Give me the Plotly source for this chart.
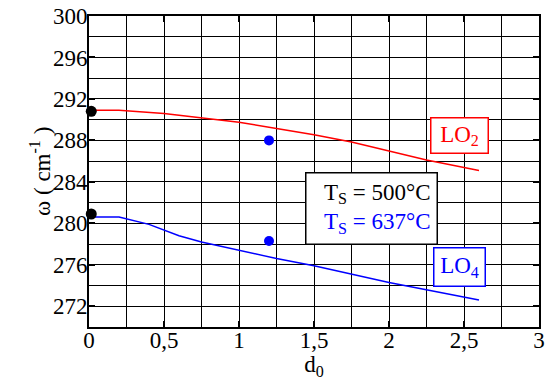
import plotly.graph_objects as go

# LO2 mode (red line)
lo2_d = [0.01, 0.2, 0.5, 0.75, 1.0, 1.25, 1.5, 1.75, 2.0, 2.25, 2.6]
lo2_w = [290.9, 290.9, 290.6, 290.15, 289.75, 289.15, 288.55, 287.85, 287.0, 286.1, 285.1]
# LO4 mode (blue line)
lo4_d = [0.01, 0.2, 0.4, 0.6, 0.75, 1.0, 1.25, 1.5, 2.0, 2.6]
lo4_w = [280.6, 280.6, 279.9, 278.8, 278.2, 277.4, 276.6, 275.9, 274.3, 272.6]
# measured points
ts500_d = [0.015, 0.015]
ts500_w = [290.8, 280.9]
ts637_d = [1.2, 1.2]
ts637_w = [288.0, 278.3]

x_ticks = [0, 0.5, 1, 1.5, 2, 2.5, 3]
x_ticktext = ["0", "0,5", "1", "1,5", "2", "2,5", "3"]
y_ticks = [272, 276, 280, 284, 288, 292, 296, 300]

FONT = "Liberation Serif, Times New Roman, serif"

fig = go.Figure()
fig.add_trace(go.Scatter(x=lo2_d, y=lo2_w, mode="lines", line=dict(color="red", width=1.5), showlegend=False))
fig.add_trace(go.Scatter(x=lo4_d, y=lo4_w, mode="lines", line=dict(color="blue", width=1.5), showlegend=False))
fig.add_trace(go.Scatter(x=ts500_d, y=ts500_w, mode="markers", marker=dict(color="black", size=11), showlegend=False, cliponaxis=False))
fig.add_trace(go.Scatter(x=ts637_d, y=ts637_w, mode="markers", marker=dict(color="blue", size=10), showlegend=False))

fig.add_annotation(x=1.88, y=281.4, xref="x", yref="y",
                   text="T<sub>S</sub> = 500°C<br><span style='color:blue'>T<sub>S</sub> = 637°C</span>",
                   showarrow=False, font=dict(family=FONT, size=23, color="black"),
                   width=118, align="right",
                   bgcolor="white", bordercolor="black", borderwidth=1.5, borderpad=6)
fig.add_annotation(x=2.467, y=288.5, xref="x", yref="y", text="LO<sub>2</sub>",
                   showarrow=False, font=dict(family=FONT, size=23, color="red"), width=52, height=30,
                   bgcolor="white", bordercolor="red", borderwidth=1.5, borderpad=2)
fig.add_annotation(x=2.467, y=275.83, xref="x", yref="y", text="LO<sub>4</sub>",
                   showarrow=False, font=dict(family=FONT, size=23, color="blue"), width=46, height=33,
                   bgcolor="white", bordercolor="blue", borderwidth=1.5, borderpad=2)
# y-axis title
fig.add_annotation(x=-0.108, y=0.5, xref="paper", yref="paper", text="ω ( cm<sup>-1</sup> )",
                   textangle=-90, showarrow=False, xanchor="center", yanchor="middle",
                   font=dict(family=FONT, size=23, color="black"))

fig.update_xaxes(range=[0, 3], tickvals=x_ticks, ticktext=x_ticktext,
                 showgrid=True, gridcolor="black", gridwidth=1,
                 minor=dict(dtick=0.25, tick0=0, showgrid=True, gridcolor="black", gridwidth=1, ticks=""),
                 ticks="inside", ticklen=6, tickcolor="black", tickwidth=1.5,
                 showline=True, linecolor="black", linewidth=2, mirror="ticks",
                 zeroline=False, automargin=False, ticklabeloverflow="allow", ticklabelstandoff=-9,
                 tickfont=dict(family=FONT, size=23, color="black"),
                 title=dict(text="d<sub>0</sub>", font=dict(family=FONT, size=23, color="black"), standoff=2))
fig.update_yaxes(range=[270, 300], tickvals=y_ticks,
                 showgrid=True, gridcolor="black", gridwidth=1,
                 minor=dict(dtick=2, tick0=270, showgrid=True, gridcolor="black", gridwidth=1, ticks=""),
                 ticks="inside", ticklen=6, tickcolor="black", tickwidth=1.5,
                 showline=True, linecolor="black", linewidth=2, mirror="ticks",
                 zeroline=False, automargin=False, ticklabeloverflow="allow", ticklabelstandoff=-5,
                 tickfont=dict(family=FONT, size=23, color="black"))

fig.update_layout(width=547, height=380, margin=dict(l=89, r=8, t=16, b=53),
                  plot_bgcolor="white", paper_bgcolor="white",
                  font=dict(family=FONT, color="black"))

fig.write_html("out.html", config={"displayModeBar": False},
               post_script="document.body.style.margin='0';document.body.style.overflow='hidden';")
